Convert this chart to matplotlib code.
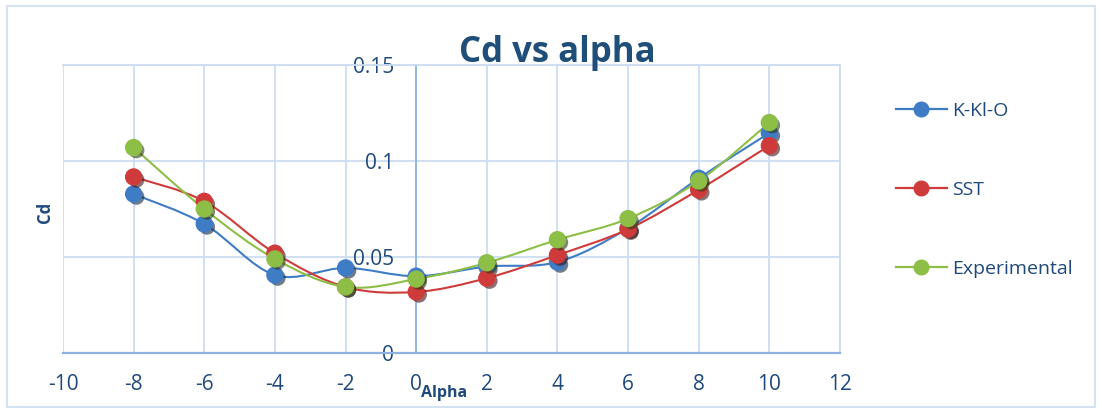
import matplotlib
matplotlib.use("Agg")
import matplotlib.pyplot as plt
from matplotlib.path import Path
from matplotlib.patches import PathPatch, Rectangle
from matplotlib.lines import Line2D
import matplotlib.patheffects as pe

plt.rcParams["font.family"] = ["Open Sans", "DejaVu Sans"]
plt.rcParams["axes.unicode_minus"] = False

alpha = [-8, -6, -4, -2, 0, 2, 4, 6, 8, 10]
cd_kklo = [0.0828, 0.0672, 0.0406, 0.0443, 0.0400, 0.0450, 0.0474, 0.0650, 0.0910, 0.1146]
cd_sst = [0.0917, 0.0790, 0.0520, 0.0344, 0.0318, 0.0390, 0.0510, 0.0645, 0.0850, 0.1080]
cd_exp = [0.1070, 0.0750, 0.0490, 0.0344, 0.0385, 0.0470, 0.0590, 0.0700, 0.0896, 0.1200]

series = [
    ("K-Kl-O", cd_kklo, "#3F7CC6"),
    ("SST", cd_sst, "#CF3B3B"),
    ("Experimental", cd_exp, "#8DBE45"),
]

TEXT = "#1F497D"
GRID = "#CCDCF0"
AXIS = "#8DB3E2"


def smooth_path(xs, ys):
    # Excel-style smoothed line: cubic bezier through every point
    pts = list(zip(xs, ys))
    verts = [pts[0]]
    codes = [Path.MOVETO]
    n = len(pts)
    for i in range(n - 1):
        p0 = pts[i - 1] if i > 0 else pts[i]
        p1 = pts[i]
        p2 = pts[i + 1]
        p3 = pts[i + 2] if i + 2 < n else pts[i + 1]
        c1 = (p1[0] + (p2[0] - p0[0]) / 6, p1[1] + (p2[1] - p0[1]) / 6)
        c2 = (p2[0] - (p3[0] - p1[0]) / 6, p2[1] - (p3[1] - p1[1]) / 6)
        verts += [c1, c2, p2]
        codes += [Path.CURVE4] * 3
    return Path(verts, codes)


fig = plt.figure(figsize=(11.02, 4.13), dpi=100)
ax = fig.add_axes([63 / 1102, 1 - 353 / 413, (840 - 63) / 1102, (353 - 65) / 413])

handles = []
for name, vals, color in series:
    ax.add_patch(PathPatch(smooth_path(alpha, vals), facecolor="none",
                           edgecolor=color, lw=1.5, zorder=3))
    ax.plot(alpha, vals, "o", ms=11.5, color=color, mec=color, zorder=4,
            path_effects=[pe.SimplePatchShadow(offset=(2, -2), alpha=0.6),
                          pe.Normal()])
    handles.append(Line2D([], [], color=color, lw=1.6, marker="o", ms=10.5))

ax.set_xlim(-10, 12)
ax.set_ylim(0, 0.15)
ax.set_xticks(range(-10, 13, 2))
ax.set_yticks([0, 0.05, 0.1, 0.15])
ax.set_yticklabels(["0", "0.05", "0.1", "0.15"])
ax.grid(True, color=GRID, lw=1.3, zorder=0)
ax.set_axisbelow(True)

ax.spines["left"].set_position(("data", 0))
ax.spines["left"].set_color(AXIS)
ax.spines["left"].set_linewidth(1.3)
ax.spines["bottom"].set_color(AXIS)
ax.spines["bottom"].set_linewidth(1.6)
for s in ["top", "right"]:
    ax.spines[s].set_color(GRID)
    ax.spines[s].set_linewidth(1.3)

ax.tick_params(axis="x", length=0, pad=15, labelsize=15, labelcolor=TEXT)
ax.tick_params(axis="y", length=0, pad=16, labelsize=15, labelcolor=TEXT)

fig.text(557 / 1102, 1 - 53 / 413, "Cd vs alpha", ha="center", va="center",
         fontsize=25, fontweight="bold", color="#1F4E79")
fig.text(444 / 1102, 1 - 393 / 413, "Alpha", ha="center", va="center",
         fontsize=11.5, fontweight="bold", color=TEXT)
fig.text(45 / 1102, 1 - 212 / 413, "Cd", ha="center", va="center",
         rotation=90, fontsize=12, fontweight="bold", color=TEXT)

fig.legend(handles, [s[0] for s in series], loc="upper left",
           bbox_to_anchor=(878 / 1102, 1 - 84 / 413), frameon=False,
           fontsize=14, labelcolor=TEXT, handlelength=2.67,
           labelspacing=3.14, handletextpad=0.26)

fig.add_artist(Rectangle((7 / 1102, 6 / 413), 1088 / 1102, 401 / 413,
                         transform=fig.transFigure, fill=False,
                         edgecolor="#D5E2F2", lw=1.5))

fig.savefig("out.png", dpi=100)
